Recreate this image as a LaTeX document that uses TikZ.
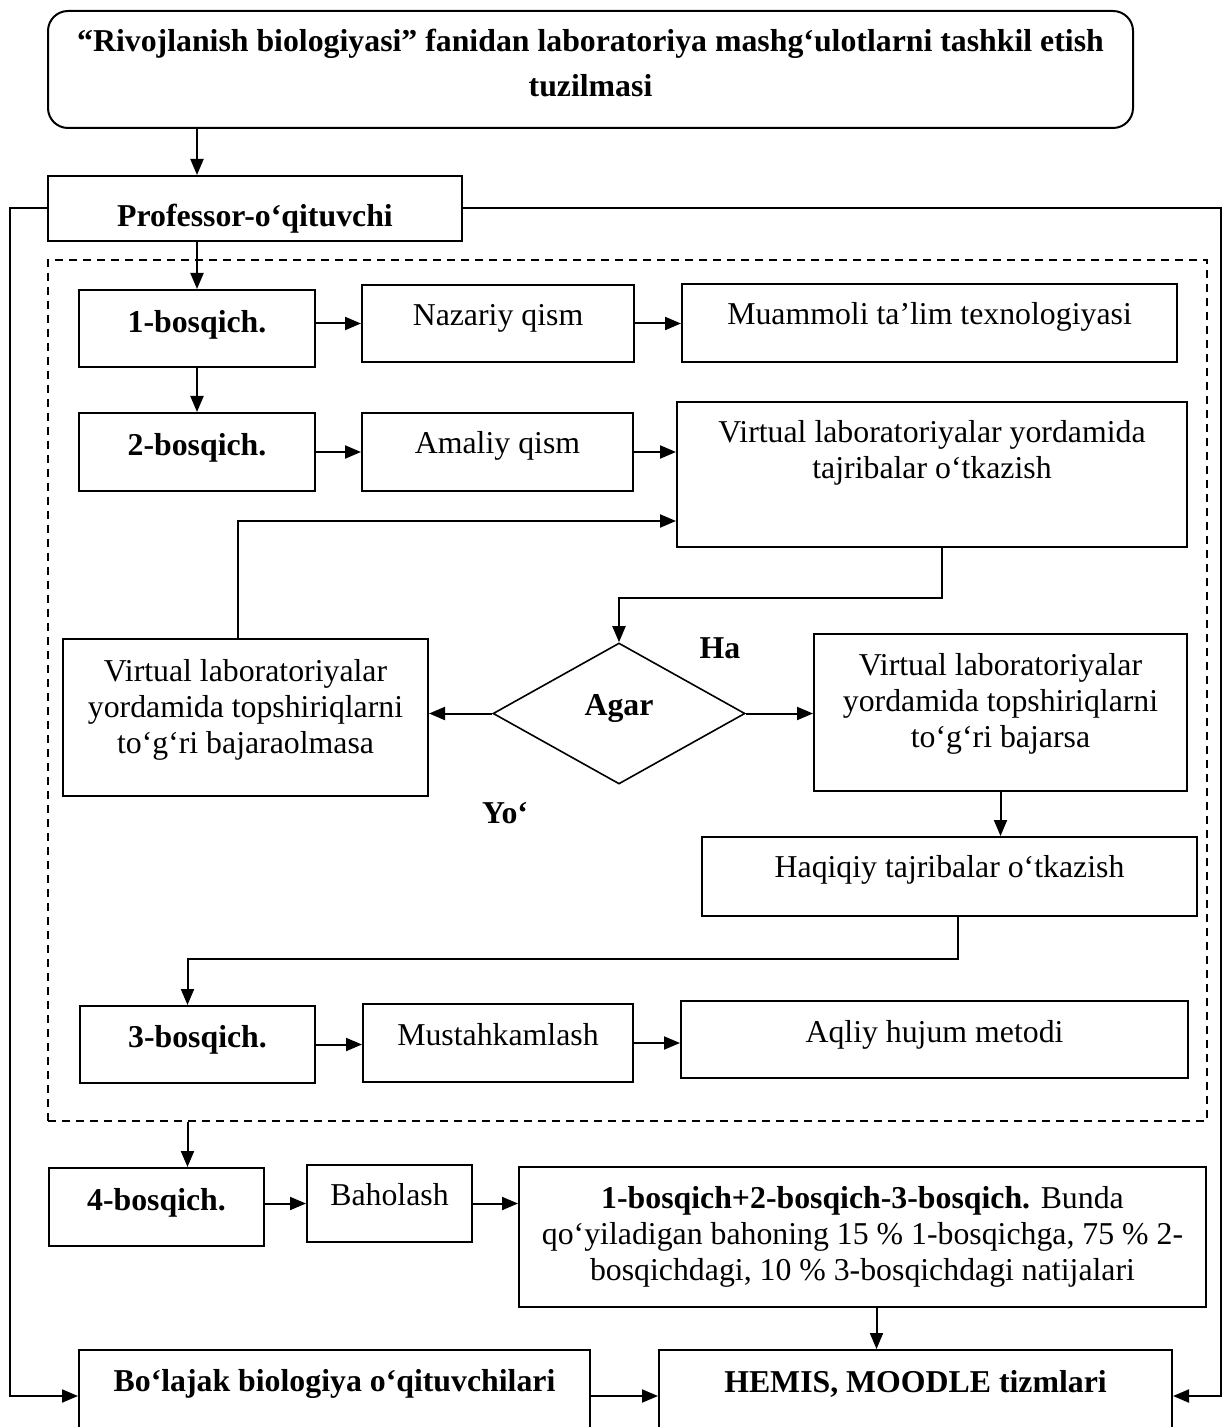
\documentclass[tikz,border=0pt]{standalone}
\usepackage{fontspec}
\setmainfont{Liberation Serif}
\usetikzlibrary{arrows.meta,shapes.geometric}

\newcommand\txtsize{\fontsize{15.9}{18}\selectfont}

\tikzset{
  box/.style={draw, line width=1pt, inner sep=0pt, align=center},
  boldtext/.style={font=\txtsize\bfseries},
  bl/.code={\pgfmathsetmacro\blt{max(6,abs(#1))}%
    \pgfmathsetmacro\blh{\blt+(#1)}\pgfmathsetmacro\bld{\blt-(#1)}%
    \tikzset{text height=\blh pt, text depth=\bld pt}},
  arr/.style={line width=1pt, -{Triangle[length=8pt,width=6.5pt]}},
  dashbox/.style={draw, dash pattern=on 4pt off 3pt, line width=0.75pt, inner sep=0pt},
  dec/.style={diamond, draw, line width=0.8pt, inner sep=0pt, font=\txtsize\bfseries},
}

\begin{document}
\begin{tikzpicture}[x=0.5pt, y=-0.5pt, font=\txtsize]
  \useasboundingbox (0,0) rectangle (1223,1427);

  % title and teacher
  \node[box, rounded corners=10pt, minimum width=542.5pt, minimum height=58.5pt, bl=13.75,
        font=\fontsize{15.9}{22.5}\selectfont\bfseries] (title) at (590.5,69.5)
        {“Rivojlanish biologiyasi” fanidan laboratoriya mashg‘ulotlarni tashkil etish\\tuzilmasi};
  \node[box, boldtext, minimum width=207pt, minimum height=32.5pt, bl=9] (prof) at (255,208.5) {Professor-o‘qituvchi};

  % dashed area with stages 1-3
  \node[dashbox, minimum width=579.5pt, minimum height=430.5pt] (area) at (627.5,690.5) {};

  \node[box, boldtext, minimum width=118pt, minimum height=38.5pt, bl=2] (b1) at (197,328.5) {1-bosqich.};
  \node[box, minimum width=136pt, minimum height=38.5pt, bl=1.25] (naz) at (498,323.5) {Nazariy qism};
  \node[box, minimum width=247.5pt, minimum height=39pt, bl=1] (muam) at (929.5,323) {Muammoli ta’lim texnologiyasi};

  \node[box, boldtext, minimum width=118pt, minimum height=39pt, bl=1.5] (b2) at (197,452) {2-bosqich.};
  \node[box, minimum width=135.5pt, minimum height=39pt, bl=0.5] (ama) at (497.5,452) {Amaliy qism};
  \node[box, minimum width=255pt, minimum height=72.5pt, bl=1.75] (virt) at (932,474.5)
        {Virtual laboratoriyalar yordamida\\tajribalar o‘tkazish};

  \node[box, minimum width=182.5pt, minimum height=78.5pt, bl=17.75] (fail) at (245.5,717.5)
        {Virtual laboratoriyalar\\yordamida topshiriqlarni\\to‘g‘ri bajaraolmasa};
  \node[dec, minimum width=126pt, minimum height=70.5pt, bl=1] (dia) at (619,713.5) {Agar};
  \node[box, minimum width=186.5pt, minimum height=78.5pt, bl=17.25] (pass) at (1000.5,712.5)
        {Virtual laboratoriyalar\\yordamida topshiriqlarni\\to‘g‘ri bajarsa};
  \node[boldtext] (ha) at (720,648) {Ha};
  \node[boldtext] (yoq) at (505,813) {Yo‘};

  \node[box, minimum width=247.5pt, minimum height=39.5pt, bl=0.25] (haq) at (949.5,876.5) {Haqiqiy tajribalar o‘tkazish};

  \node[box, boldtext, minimum width=117.5pt, minimum height=38.5pt, bl=1.25] (b3) at (197.5,1044.5) {3-bosqich.};
  \node[box, minimum width=135pt, minimum height=39pt, bl=1] (must) at (498,1043) {Mustahkamlash};
  \node[box, minimum width=253.5pt, minimum height=38.5pt, bl=1.25] (aql) at (934.5,1039.5) {Aqliy hujum metodi};

  % stage 4 and results
  \node[box, boldtext, minimum width=107.5pt, minimum height=39pt, bl=1.5] (b4) at (156.5,1207) {4-bosqich.};
  \node[box, minimum width=82.5pt, minimum height=38.5pt, bl=0.75] (bah) at (389.5,1203.5) {Baholash};
  \node[box, minimum width=343.5pt, minimum height=70pt, bl=21.5] (sum) at (862.5,1237)
        {\textbf{1-bosqich+2-bosqich-3-bosqich.} Bunda\\qo‘yiladigan bahoning 15 \% 1-bosqichga, 75 \% 2-\\bosqichdagi, 10 \% 3-bosqichdagi natijalari};

  \node[box, boldtext, minimum width=255.5pt, minimum height=46pt, bl=-2.5] (bola) at (334.5,1396) {Bo‘lajak biologiya o‘qituvchilari};
  \node[box, boldtext, minimum width=256.5pt, minimum height=46pt, bl=-2] (hemis) at (915.5,1396) {HEMIS, MOODLE tizmlari};

  \coordinate (lside) at (10,0);
  \coordinate (rside) at (1221,0);
  \coordinate (back) at ([yshift=-60pt]virt.north west);
  \coordinate (c3) at ([xshift=-5pt]b3.north);
  \coordinate (c5) at ([xshift=7pt]sum.south);

  % connectors
  \draw[arr] (title.south -| b1.north) -- (prof.north -| b1.north);
  \draw[arr] (prof.south -| b1.north) -- (b1.north);
  \draw[arr] (b1.east |- naz) -- (naz.west);
  \draw[arr] (naz.east) -- (naz.east -| muam.west);
  \draw[arr] (b1.south) -- (b2.north);
  \draw[arr] (b2.east) -- (ama.west);
  \draw[arr] (ama.east) -- (ama.east -| virt.west);
  \draw[arr] ([xshift=-4pt]fail.north) |- (back);
  \draw[arr] ([xshift=5pt]virt.south) -- ++(0,50) -| (dia.north);
  \draw[arr] (dia.west) -- (dia.west -| fail.east);
  \draw[arr] (dia.east) -- (dia.east -| pass.west);
  \draw[arr] (pass.south) -- (pass.south |- haq.north);
  \draw[arr] ([xshift=4pt]haq.south) -- ++(0,42) -| (c3);
  \draw[arr] (b3.east) -- (b3.east -| must.west);
  \draw[arr] (must.east) -- (must.east -| aql.west);
  \draw[arr] (area.south -| c3) -- (b4.north -| c3);
  \draw[arr] (bah.west -| b4.east) -- (bah.west);
  \draw[arr] (bah.east) -- (bah.east -| sum.west);
  \draw[arr] (c5) -- (c5 |- hemis.north);
  \draw[arr] (bola.east) -- (hemis.west);
  \draw[arr] (prof.west) -- (prof.west -| lside) |- (bola.west);
  \draw[arr] (prof.east) -- (prof.east -| rside) |- (hemis.east);
\end{tikzpicture}
\end{document}
